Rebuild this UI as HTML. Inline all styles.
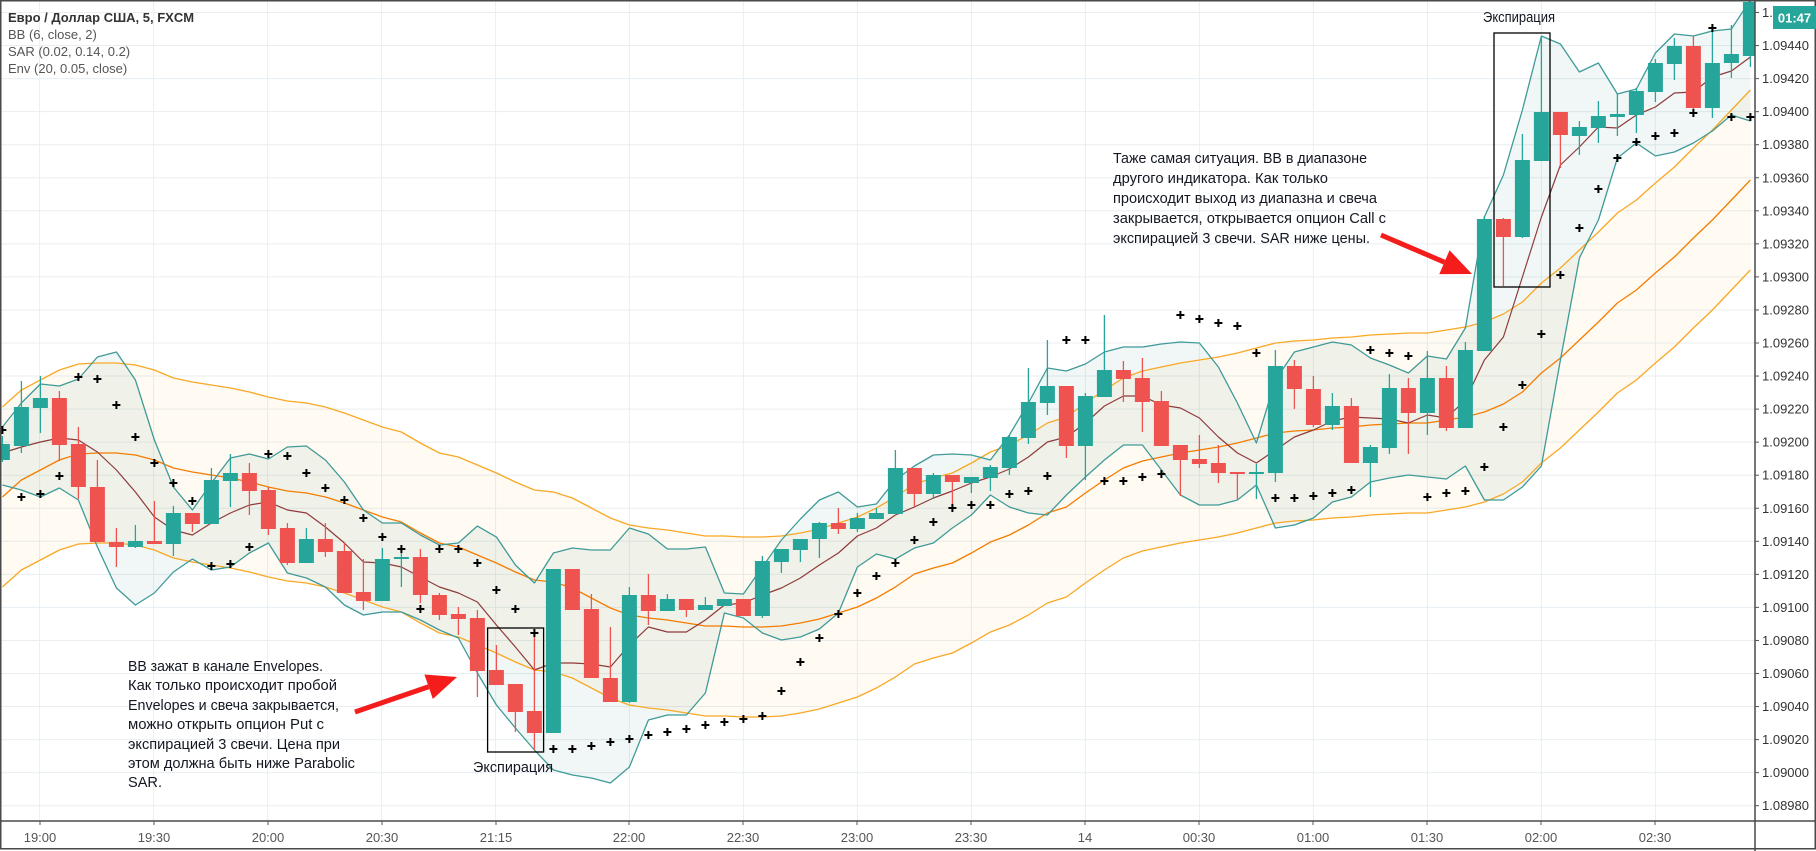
<!DOCTYPE html>
<html><head><meta charset="utf-8"><style>
html,body{margin:0;padding:0;background:#fff;}
svg{display:block;font-family:"Liberation Sans","DejaVu Sans",sans-serif;}
</style></head><body>
<svg id="s" width="1816" height="851" viewBox="0 0 1816 851" xmlns="http://www.w3.org/2000/svg">
<rect x="0" y="0" width="1816" height="851" fill="#fff"/>
<defs><clipPath id="pc"><rect x="0" y="0" width="1755" height="821"/></clipPath></defs>
<g id="grid"></g>
<g id="plot" clip-path="url(#pc)"></g>
<g id="axes"></g>
<g font-size="13" fill="#131722">
<text x="8" y="22" font-weight="bold" fill="#333">Евро / Доллар США, 5, FXCM</text>
<text x="8" y="39" fill="#555">BB (6, close, 2)</text>
<text x="8" y="56" fill="#555">SAR (0.02, 0.14, 0.2)</text>
<text x="8" y="73" fill="#555">Env (20, 0.05, close)</text>
</g>
<g font-size="15" fill="#131722">
<text x="128" y="671" textLength="195" lengthAdjust="spacingAndGlyphs">ВВ зажат в канале Envelopes.</text>
<text x="128" y="690" textLength="209" lengthAdjust="spacingAndGlyphs">Как только происходит пробой</text>
<text x="128" y="710" textLength="211" lengthAdjust="spacingAndGlyphs">Envelopes и свеча закрывается,</text>
<text x="128" y="729" textLength="196" lengthAdjust="spacingAndGlyphs">можно открыть опцион Put с</text>
<text x="128" y="749" textLength="212" lengthAdjust="spacingAndGlyphs">экспирацией 3 свечи. Цена при</text>
<text x="128" y="768" textLength="227" lengthAdjust="spacingAndGlyphs">этом должна быть ниже Parabolic</text>
<text x="128" y="787" textLength="34" lengthAdjust="spacingAndGlyphs">SAR.</text>
<text x="1113" y="163" textLength="254" lengthAdjust="spacingAndGlyphs">Таже самая ситуация. ВВ в диапазоне</text>
<text x="1113" y="183" textLength="215" lengthAdjust="spacingAndGlyphs">другого индикатора. Как только</text>
<text x="1113" y="203" textLength="264" lengthAdjust="spacingAndGlyphs">происходит выход из диапазна и свеча</text>
<text x="1113" y="223" textLength="273" lengthAdjust="spacingAndGlyphs">закрывается, открывается опцион Call с</text>
<text x="1113" y="243" textLength="257" lengthAdjust="spacingAndGlyphs">экспирацией 3 свечи. SAR ниже цены.</text>
<text x="513" y="772" text-anchor="middle" textLength="80" lengthAdjust="spacingAndGlyphs">Экспирация</text>
<text x="1519" y="22" text-anchor="middle" textLength="72" lengthAdjust="spacingAndGlyphs">Экспирация</text>
</g>
<g id="ann"></g>
<g id="plabels" font-size="13" fill="#333"></g>
<g font-size="13" fill="#555" text-anchor="middle" id="tl">
<text x="40" y="842">19:00</text><text x="154" y="842">19:30</text><text x="268" y="842">20:00</text><text x="382" y="842">20:30</text><text x="496" y="842">21:15</text><text x="629" y="842">22:00</text><text x="743" y="842">22:30</text><text x="857" y="842">23:00</text><text x="971" y="842">23:30</text><text x="1085" y="842">14</text><text x="1199" y="842">00:30</text><text x="1313" y="842">01:00</text><text x="1427" y="842">01:30</text><text x="1541" y="842">02:00</text><text x="1655" y="842">02:30</text>
</g>
<g id="tag"></g>
</svg>
<script>
var NS="http://www.w3.org/2000/svg";
function X(k){return 743.4+19*k;}
var C=[
['g',444,460,436,462],['g',407,446,381,453],['g',398,408,376,433],['r',398,445,391,461],['r',444,487,427,499],['r',487,542,460,542],['r',542,547,528,567],['g',541,547,525,548],['r',541,544,501,544],['g',513,544,506,556],
['r',513,524,513,532],['g',480,524,468,524],['g',473,481,454,507],['r',473,491,463,515],['r',490,529,487,535],['r',528,563,523,565],['g',539,563,528,563],['r',539,552,523,557],['r',551,593,543,593],['r',592,601,559,610],
['g',559,601,548,601],['g',557,559,549,587],['r',557,595,549,603],['r',595,615,593,620],['r',614,619,607,635],['r',618,671,610,697],['r',670,685,645,685],['r',684,712,684,732],['r',711,733,631,750],['g',569,733,569,733],
['r',569,610,569,610],['r',609,678,594,678],['r',678,702,627,702],['g',595,702,587,703],['r',595,611,574,625],['g',599,611,594,611],['r',599,610,599,617],['g',605,610,597,610],['g',599,606,599,606],['r',599,616,599,616],
['g',561,616,556,618],['g',549,562,549,573],['g',539,550,539,562],['g',523,539,522,558],['r',523,529,508,534],['g',518,529,513,532],['g',513,519,508,519],['g',468,514,450,514],['r',468,494,468,507],['g',475,494,473,499],
['r',475,482,475,508],['g',477,483,477,493],['g',467,478,465,491],['g',437,468,435,475],['g',402,438,368,444],['g',386,403,340,415],['r',386,446,386,458],['g',396,446,393,480],['g',370,397,315,397],['r',370,379,361,402],
['r',378,402,358,432],['r',401,446,391,446],['r',445,460,445,496],['r',459,464,435,468],['r',463,473,445,483],['r',472,474,472,499],['g',472,474,464,499],['g',366,473,350,482],['r',366,389,360,409],['r',389,425,376,427],
['g',406,425,393,430],['r',406,463,398,463],['g',447,463,445,497],['g',388,448,374,454],['r',388,413,378,454],['g',378,413,351,435],['r',378,428,366,431],['g',350,428,342,428],['g',219,351,216,351],['r',219,237,218,286],
['g',160,237,134,238],['g',112,161,36,161],['r',112,135,112,168],['g',127,136,121,155],['g',116,128,101,143],['g',114,117,94,136],['g',91,115,88,133],['g',63,92,59,102],['g',46,64,38,80],['r',46,108,36,113],
['g',63,108,27,118],['g',54,63,25,78],['g',2,56,0,67]];
var UP=[427,403,384,386,379,357,352,380,440,487,510,483,458,454,459,447,446,460,482,510,523,523,535,545,543,526,537,565,583,553,548,
550,550,528,534,549,549,547,593,594,567,540,519,500,492,507,504,480,466,455,454,455,460,435,403,368,371,364,352,347,347,344,
342,343,367,403,443,380,352,347,342,345,358,365,373,356,359,328,217,175,110,36,44,72,63,94,89,53,34,36,31,29,0];
var LO=[485,490,497,488,500,547,588,605,593,572,559,570,567,553,543,573,578,587,605,615,612,612,620,630,638,673,705,728,750,770,775,
778,783,767,720,715,715,693,613,618,633,640,637,629,613,567,554,559,548,543,528,515,495,507,513,515,495,477,460,445,445,470,
495,505,505,500,485,528,525,518,502,497,482,478,475,477,479,466,500,500,487,466,360,258,220,158,143,156,152,143,131,115,121];
var MI=[453,447,442,438,440,452,470,492,517,530,535,523,513,505,502,510,513,527,543,562,563,567,577,587,593,602,625,647,670,663,663,
664,667,645,627,632,632,620,605,603,595,588,578,565,553,536,528,515,507,498,491,483,477,469,457,442,437,423,406,396,396,405,
408,418,437,453,463,450,437,430,421,417,418,419,423,415,418,400,360,337,277,217,165,147,127,128,115,107,93,92,77,71,57];
var EM=[497,480,470,460,454,453,453,455,460,468,472,475,478,482,487,491,493,497,503,510,517,522,533,543,547,555,563,572,580,582,588,
598,608,615,618,620,623,626,626,627,627,626,623,619,613,607,598,587,574,568,563,553,542,535,525,513,507,493,480,468,461,457,
453,450,447,443,438,433,431,430,428,427,425,424,423,423,420,417,412,404,392,373,358,340,322,303,290,273,257,238,220,200,180];
var SAR=[430,497,494,476,377,379,405,437,463,483,501,566,564,547,454,456,473,488,500,518,537,549,609,549,549,563,590,609,633,749,749,
746,742,739,735,732,729,725,722,719,716,691,662,638,614,593,576,563,540,522,508,505,505,494,491,476,340,340,481,481,477,474,
315,319,323,326,353,498,498,496,493,490,350,353,356,497,493,491,467,427,385,334,275,228,189,158,142,136,133,113,28,117,117];
var s='';
var g='';
for(var i=0;i<5;i++){var x=39.6+114*i;g+='<line x1="'+x+'" y1="0" x2="'+x+'" y2="821" stroke="#e8eef2" stroke-width="1"/>';}
for(var i=0;i<10;i++){var x=629.4+114*i;g+='<line x1="'+x+'" y1="0" x2="'+x+'" y2="821" stroke="#e8eef2" stroke-width="1"/>';}
var pl='';
for(var n=0;n<=24;n++){var p=1.0898+0.0002*n;var y=805.7-33.05*n;
g+='<line x1="0" y1="'+y+'" x2="1755" y2="'+y+'" stroke="#e8eef2" stroke-width="1"/>';
pl+='<line x1="1755" y1="'+y+'" x2="1759" y2="'+y+'" stroke="#555"/><text x="1762" y="'+(y+4.5)+'">'+p.toFixed(5)+'</text>';}
document.getElementById('grid').innerHTML=g;
document.getElementById('plabels').innerHTML=pl;
function pts(a,off){var r=[];for(var i=0;i<a.length;i++)r.push(X(i-39).toFixed(1)+','+(a[i]+(off||0)));return r;}
function poly(a,col,w){return '<polyline points="'+pts(a).join(' ')+'" fill="none" stroke="'+col+'" stroke-width="'+w+'" stroke-linejoin="round"/>';}
var EU=EM.map(function(v){return v-90;}),EL=EM.map(function(v){return v+90;});
s+='<polygon points="'+pts(EU).join(' ')+' '+pts(EL).reverse().join(' ')+'" fill="rgba(255,152,0,0.05)"/>';
s+='<polygon points="'+pts(UP).join(' ')+' '+pts(LO).reverse().join(' ')+'" fill="rgba(38,140,130,0.07)"/>';
s+=poly(EU,'#f9a825',1.3)+poly(EL,'#f9a825',1.3)+poly(EM,'#f57c00',1.3);
s+=poly(UP,'#3f9a98',1.3)+poly(LO,'#3f9a98',1.3)+poly(MI,'#8e3b3b',1.2);
for(var i=0;i<C.length;i++){var c=C[i],x=X(i-39),col=c[0]=='g'?'#26a69a':'#ef5350';
s+='<line x1="'+x+'" y1="'+c[3]+'" x2="'+x+'" y2="'+c[4]+'" stroke="'+col+'" stroke-width="1.3"/>';
var h=Math.max(c[2]-c[1],2);s+='<rect x="'+(x-7.5)+'" y="'+c[1]+'" width="15" height="'+h+'" fill="'+col+'"/>';}
for(var i=0;i<SAR.length;i++){var x=X(i-39),y=SAR[i];
s+='<path d="M'+(x-4)+' '+y+'H'+(x+4)+'M'+x+' '+(y-4)+'V'+(y+4)+'" stroke="#000" stroke-width="2"/>';}
document.getElementById('plot').innerHTML=s;
function arrow(x1,y1,x2,y2){var dx=x2-x1,dy=y2-y1,L=Math.sqrt(dx*dx+dy*dy),ux=dx/L,uy=dy/L,px=-uy,py=ux,hl=30,hw=13;
var bx=x2-ux*hl,by=y2-uy*hl;
return '<line x1="'+x1+'" y1="'+y1+'" x2="'+bx+'" y2="'+by+'" stroke="#f51c1c" stroke-width="5"/>'+
'<polygon points="'+x2+','+y2+' '+(bx+px*hw)+','+(by+py*hw)+' '+(bx-px*hw)+','+(by-py*hw)+'" fill="#f51c1c"/>';}
var a='';
a+='<rect x="487.6" y="628" width="56" height="124" fill="none" stroke="#000" stroke-width="1.3"/>';
a+='<rect x="1494" y="33" width="56" height="254" fill="none" stroke="#000" stroke-width="1.3"/>';
a+=arrow(355,712,457,677)+arrow(1381,235,1472,274);
document.getElementById('ann').innerHTML=a;
var ax='';
ax+='<line x1="0" y1="821" x2="1816" y2="821" stroke="#4a4a4a" stroke-width="1.5"/>';
ax+='<line x1="1755" y1="0" x2="1755" y2="851" stroke="#4a4a4a" stroke-width="1.5"/>';
ax+='<rect x="0.75" y="0.75" width="1814.5" height="848" fill="none" stroke="#4a4a4a" stroke-width="1.5"/>';
var tx=[40,154,268,382,496,629,743,857,971,1085,1199,1313,1427,1541,1655];
for(var i=0;i<tx.length;i++)ax+='<line x1="'+tx[i]+'" y1="821" x2="'+tx[i]+'" y2="825" stroke="#555"/>';
document.getElementById('axes').innerHTML=ax;
document.getElementById('tag').innerHTML='<rect x="1773" y="6" width="43" height="23" fill="#26a69a"/><text x="1794.5" y="22.5" text-anchor="middle" font-size="13" font-weight="bold" fill="#fff">01:47</text>';
</script>
</body></html>
